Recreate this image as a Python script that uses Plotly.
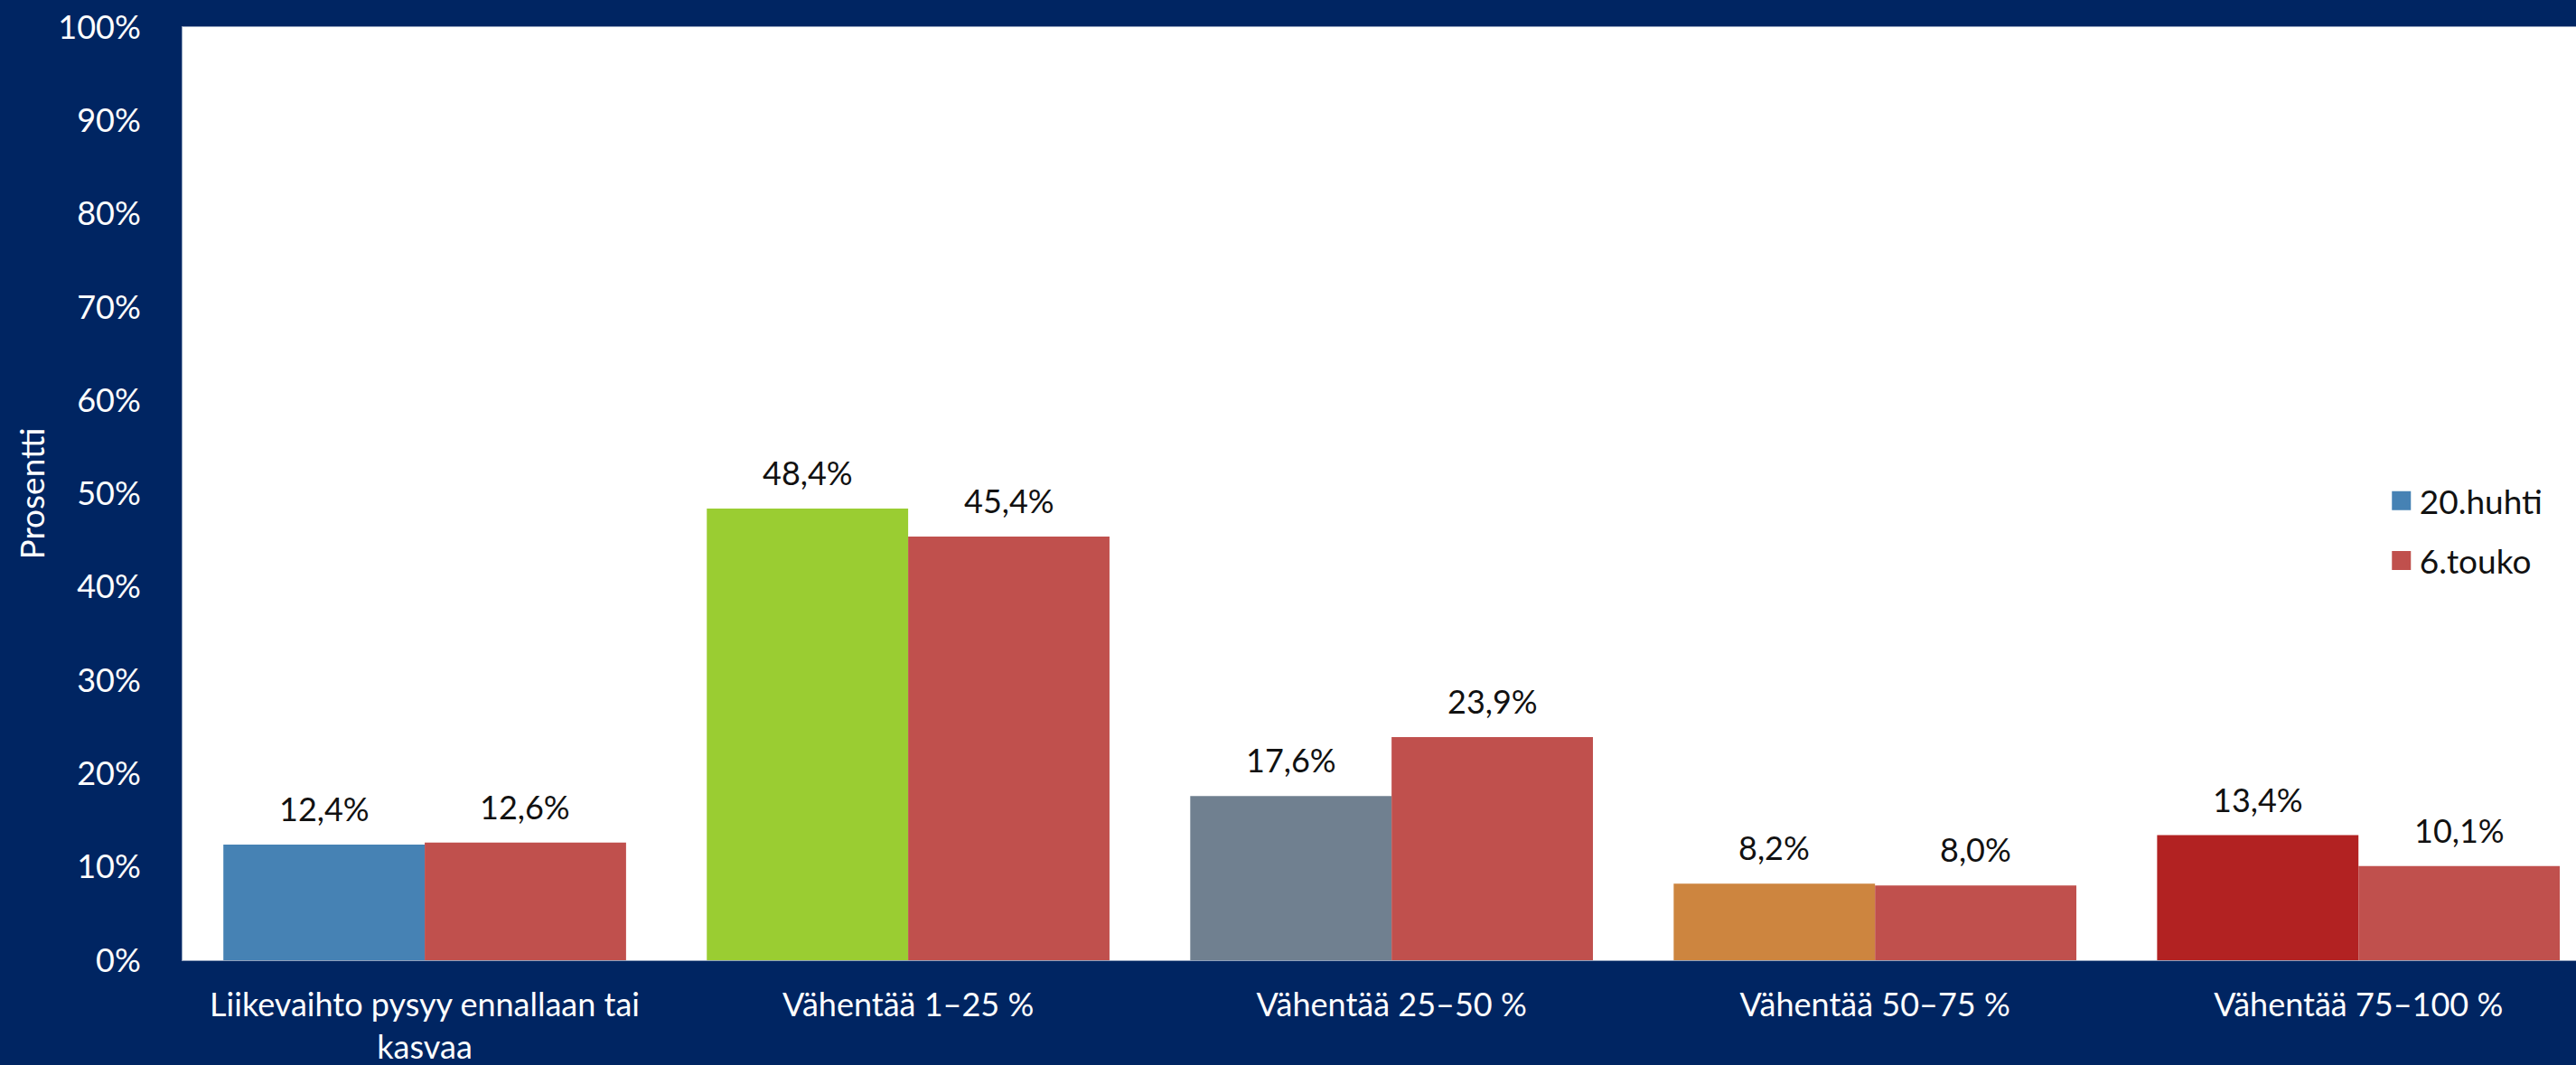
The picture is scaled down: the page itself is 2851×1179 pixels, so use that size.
import plotly.graph_objects as go

categories = ["Liikevaihto pysyy ennallaan tai<br>kasvaa", "Vähentää 1–25 %", "Vähentää 25–50 %",
              "Vähentää 50–75 %", "Vähentää 75–100 %"]
series_names = ["20.huhti", "6.touko"]
huhti = [12.4, 48.4, 17.6, 8.2, 13.4]
touko = [12.6, 45.4, 23.9, 8.0, 10.1]
huhti_colors = ["#4682B4", "#9ACD32", "#708090", "#CD853F", "#B22222"]
touko_color = "#C0504D"
y_ticks = [0, 10, 20, 30, 40, 50, 60, 70, 80, 90, 100]

NAVY = "#002562"
FONT = "Lato"
FS = 36

x = list(range(len(categories)))

def fmt(v):
    return f"{v:.1f}".replace(".", ",") + "%"

fig = go.Figure()
fig.add_trace(go.Bar(x=x, y=huhti, name=series_names[0], showlegend=False,
                     marker=dict(color=huhti_colors, line=dict(width=0))))
fig.add_trace(go.Bar(x=x, y=touko, name=series_names[1], showlegend=False,
                     marker=dict(color=touko_color, line=dict(width=0))))
# legend entries (square swatches)
for name, col, grp in ((series_names[0], huhti_colors[0], "a"), (series_names[1], touko_color, "b")):
    fig.add_trace(go.Scatter(x=[None], y=[None], mode="markers", name=name, legendgroup=grp,
                             marker=dict(symbol="square", size=16, color=col,
                                         line=dict(width=5, color=col))))

bargap = 0.167
bw = (1 - bargap) / 2
for vals, off in ((huhti, -bw / 2), (touko, bw / 2)):
    for i, v in enumerate(vals):
        fig.add_annotation(x=i + off, y=v, text=fmt(v), showarrow=False,
                           yanchor="bottom", yshift=16,
                           font=dict(family=FONT, size=FS, color="#111111"))

fig.update_layout(
    width=2851, height=1179,
    paper_bgcolor=NAVY, plot_bgcolor="white",
    margin=dict(l=202, r=0, t=30, b=116),
    barmode="group", bargap=bargap, bargroupgap=0,
    font=dict(family=FONT, color="white", size=FS),
    showlegend=True,
    legend=dict(x=0.9195, y=0.522, xanchor="left", yanchor="top",
                font=dict(family=FONT, size=37, color="#111111"),
                bgcolor="rgba(0,0,0,0)", traceorder="grouped", tracegroupgap=15,
                itemwidth=30),
)
fig.update_xaxes(range=[-0.501, 4.45], tickvals=x, ticktext=categories,
                 showgrid=False, zeroline=False, showline=True, mirror=True,
                 linecolor="#8FA0BC", linewidth=1, automargin=False,
                 tickfont=dict(family=FONT, size=FS, color="white"),
                 ticks="", ticklabelstandoff=18)
fig.update_yaxes(range=[0, 100], tickvals=y_ticks, ticktext=[f"{t}%" for t in y_ticks],
                 showgrid=False, zeroline=False, showline=True, mirror=True,
                 linecolor="#8FA0BC", linewidth=1, automargin=False,
                 tickfont=dict(family=FONT, size=FS, color="white"),
                 ticks="", ticklabelstandoff=38,
                 title=dict(text="Prosentti", font=dict(family=FONT, size=37, color="white"),
                            standoff=3))

fig.write_html("out.html", config={"displayModeBar": False},
               post_script="document.body.style.margin='0';document.body.style.overflow='hidden';")
